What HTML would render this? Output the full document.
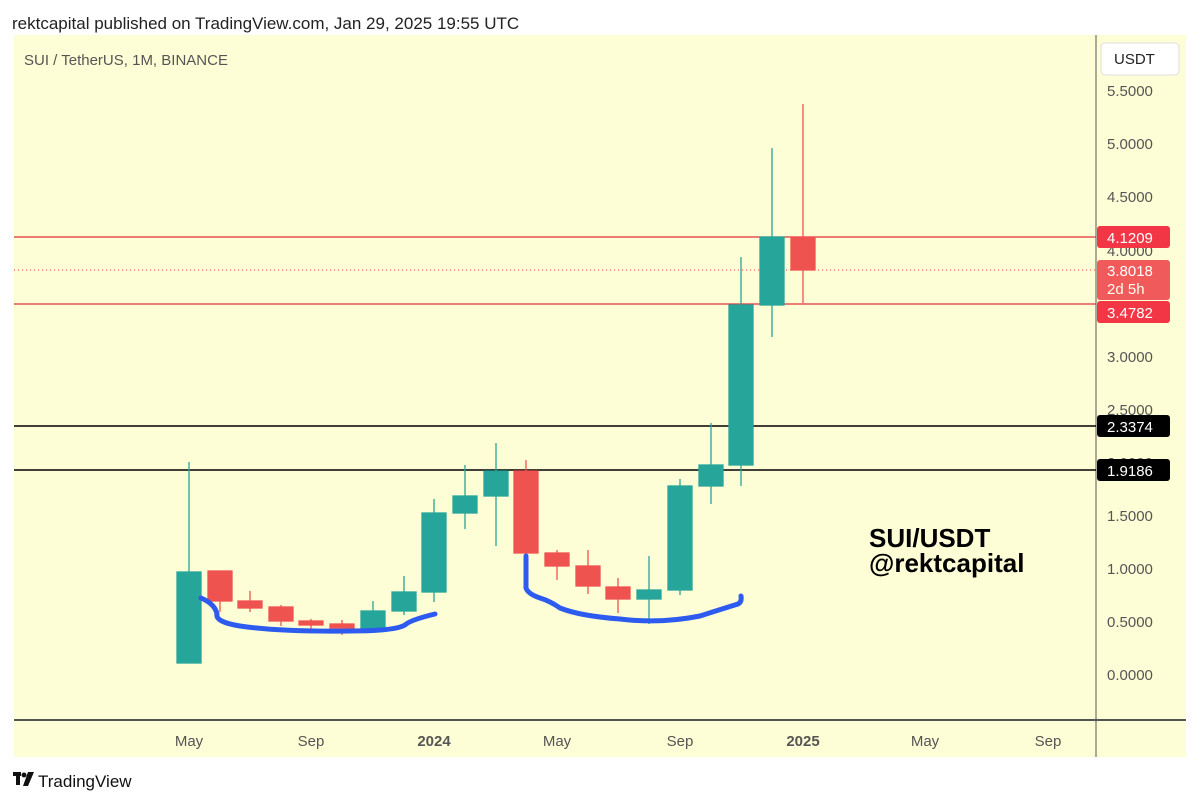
<!DOCTYPE html>
<html><head><meta charset="utf-8"><style>
body{margin:0;background:#fff;width:1200px;height:804px;overflow:hidden;font-family:"Liberation Sans",sans-serif}
</style></head><body>
<svg width="1200" height="804" xmlns="http://www.w3.org/2000/svg" font-family="Liberation Sans, sans-serif">
<text x="12" y="29" font-size="17" fill="#222">rektcapital published on TradingView.com, Jan 29, 2025 19:55 UTC</text>
<rect x="14" y="35" width="1172" height="722" fill="#fefed6"/>
<text x="24" y="65" font-size="15" fill="#555">SUI / TetherUS, 1M, BINANCE</text>
<rect x="1101" y="43" width="78" height="32" rx="4" fill="#fff" stroke="#ddd"/>
<text x="1114" y="64" font-size="15" fill="#222">USDT</text>
<line x1="1096" y1="35" x2="1096" y2="757" stroke="#555" stroke-width="1"/>
<line x1="14" y1="720" x2="1186" y2="720" stroke="#555" stroke-width="2"/>
<g font-size="15" fill="#555">
<text x="1107" y="96">5.5000</text><text x="1107" y="149">5.0000</text><text x="1107" y="202">4.5000</text>
<text x="1107" y="256">4.0000</text><text x="1107" y="362">3.0000</text><text x="1107" y="415">2.5000</text>
<text x="1107" y="468">2.0000</text><text x="1107" y="521">1.5000</text><text x="1107" y="574">1.0000</text>
<text x="1107" y="627">0.5000</text><text x="1107" y="680">0.0000</text>
</g>
<g font-size="15" fill="#555" text-anchor="middle">
<text x="189" y="746">May</text><text x="311" y="746">Sep</text><text x="434" y="746" font-weight="bold">2024</text>
<text x="557" y="746">May</text><text x="680" y="746">Sep</text><text x="803" y="746" font-weight="bold">2025</text>
<text x="925" y="746">May</text><text x="1048" y="746">Sep</text>
</g>
<line x1="14" y1="237" x2="1096" y2="237" stroke="#e0303f" stroke-width="1.2"/>
<line x1="14" y1="304" x2="1096" y2="304" stroke="#e0303f" stroke-width="1.2"/>
<line x1="14" y1="270" x2="1096" y2="270" stroke="#e0303f" stroke-width="1" stroke-dasharray="1,3"/>
<line x1="14" y1="426" x2="1096" y2="426" stroke="#000" stroke-width="1.5"/>
<line x1="14" y1="470" x2="1096" y2="470" stroke="#000" stroke-width="1.5"/>
<g font-size="15" fill="#fff">
<rect x="1097" y="226" width="73" height="22" rx="3" fill="#f23645"/><text x="1107" y="243">4.1209</text>
<rect x="1097" y="260" width="73" height="40" rx="3" fill="#f05a5a"/><text x="1107" y="276">3.8018</text><text x="1107" y="294" fill="#ffe">2d 5h</text>
<rect x="1097" y="301" width="73" height="22" rx="3" fill="#f23645"/><text x="1107" y="318">3.4782</text>
<rect x="1097" y="415" width="73" height="22" rx="3" fill="#000"/><text x="1107" y="432">2.3374</text>
<rect x="1097" y="459" width="73" height="22" rx="3" fill="#000"/><text x="1107" y="476">1.9186</text>
</g>
<g stroke-width="1.3">
<g stroke="#26a69a" fill="#26a69a">
<line x1="189" y1="462" x2="189" y2="663"/><rect x="177" y="572" width="24" height="91"/>
<line x1="373" y1="601" x2="373" y2="628"/><rect x="361" y="611" width="24" height="17"/>
<line x1="404" y1="576" x2="404" y2="615"/><rect x="392" y="592" width="24" height="19"/>
<line x1="434" y1="499" x2="434" y2="602"/><rect x="422" y="513" width="24" height="79"/>
<line x1="465" y1="465" x2="465" y2="529"/><rect x="453" y="496" width="24" height="17"/>
<line x1="496" y1="443" x2="496" y2="546"/><rect x="484" y="471" width="24" height="25"/>
<line x1="649" y1="556" x2="649" y2="624"/><rect x="637" y="590" width="24" height="9"/>
<line x1="680" y1="479" x2="680" y2="595"/><rect x="668" y="486" width="24" height="104"/>
<line x1="711" y1="423" x2="711" y2="504"/><rect x="699" y="465" width="24" height="21"/>
<line x1="741" y1="257" x2="741" y2="486"/><rect x="729" y="305" width="24" height="160"/>
<line x1="772" y1="148" x2="772" y2="337"/><rect x="760" y="237" width="24" height="68"/>
</g>
<g stroke="#ef5350" fill="#ef5350">
<line x1="220" y1="571" x2="220" y2="612"/><rect x="208" y="571" width="24" height="30"/>
<line x1="250" y1="591" x2="250" y2="612"/><rect x="238" y="601" width="24" height="7"/>
<line x1="281" y1="605" x2="281" y2="626"/><rect x="269" y="607" width="24" height="14"/>
<line x1="311" y1="619" x2="311" y2="629"/><rect x="299" y="621" width="24" height="4"/>
<line x1="342" y1="620" x2="342" y2="635"/><rect x="330" y="624" width="24" height="4"/>
<line x1="526" y1="460" x2="526" y2="580"/><rect x="514" y="471" width="24" height="82"/>
<line x1="557" y1="550" x2="557" y2="580"/><rect x="545" y="553" width="24" height="13"/>
<line x1="588" y1="550" x2="588" y2="594"/><rect x="576" y="566" width="24" height="20"/>
<line x1="618" y1="578" x2="618" y2="613"/><rect x="606" y="587" width="24" height="12"/>
<line x1="803" y1="104" x2="803" y2="303"/><rect x="791" y="237" width="24" height="33"/>
</g>
</g>
<g fill="none" stroke="#2e5bef" stroke-width="5" stroke-linecap="round">
<path d="M201 598 Q215 604 217 614 Q215 622 240 626 Q280 632 350 631 Q395 631 405 625 Q410 620 435 614"/>
<path d="M526 556 L526 588 Q528 594 540 598 Q550 601 560 608 Q580 616 620 619 Q660 624 700 616 Q725 608 738 604 Q742 602 741 596"/>
</g>
<text x="869" y="547" font-size="26" font-weight="bold" fill="#000">SUI/USDT</text>
<text x="869" y="572" font-size="26" font-weight="bold" fill="#000">@rektcapital</text>
<g fill="#111"><rect x="13" y="772" width="8" height="4"/><rect x="16" y="772" width="4" height="13"/><circle cx="24" cy="775" r="2.5"/><path d="M28 772 L34 772 L28 786 L23 786 Z"/></g>
<text x="38" y="787" font-size="17" fill="#111">TradingView</text>
</svg>
</body></html>
